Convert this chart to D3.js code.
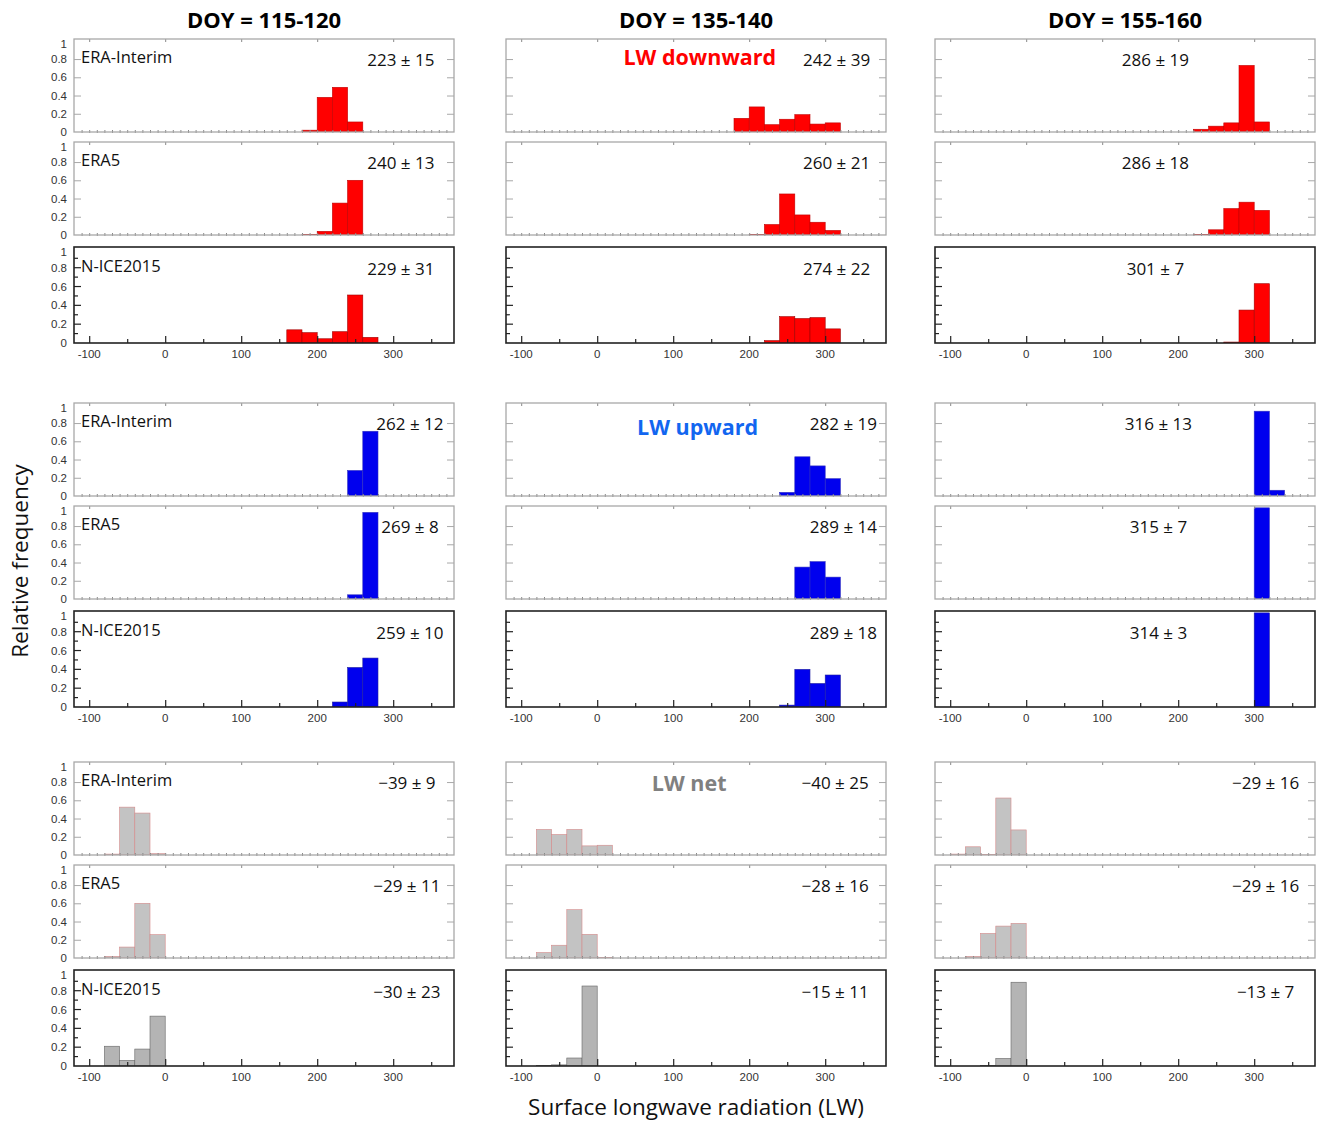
<!doctype HTML>
<meta charset="utf-8">
<html>
<head>
    <script src="https://d3js.org/d3.v7.min.js"></script>
    <style>
        body { margin: 0; background: #fff; }
        text { font-family: "Open Sans", "Noto Sans", sans-serif; }
        .tick-lbl { font-family: "Liberation Sans", Arial, sans-serif; font-size: 11.5px; fill: #333; }
    </style>
</head>
<body>
<div id="viz"></div>
<script>

    // column titles, dataset names and row groups
    var doyTitles = ["DOY = 115-120", "DOY = 135-140", "DOY = 155-160"];
    var datasets = ["ERA-Interim", "ERA5", "N-ICE2015"];
    var variables = ["LW downward", "LW upward", "LW net"];
    var xTicks = [-100, 0, 100, 200, 300];
    var yTicks = [0, 0.2, 0.4, 0.6, 0.8, 1];
    var binWidth = 20;

    // histograms: [column][dataset] -> first bin edge + relative frequencies
    var downHist = [
        [{from: 180, f: [0.02, 0.38, 0.49, 0.11]},
         {from: 180, f: [0.005, 0.04, 0.35, 0.6]},
         {from: 160, f: [0.14, 0.11, 0.045, 0.12, 0.51, 0.06]}],
        [{from: 180, f: [0.15, 0.275, 0.08, 0.14, 0.19, 0.087, 0.10]},
         {from: 200, f: [0.005, 0.115, 0.45, 0.22, 0.14, 0.05]},
         {from: 220, f: [0.025, 0.28, 0.26, 0.27, 0.15]}],
        [{from: 220, f: [0.03, 0.064, 0.10, 0.73, 0.11]},
         {from: 220, f: [0.005, 0.057, 0.29, 0.36, 0.27]},
         {from: 260, f: [0.01, 0.35, 0.63]}]
    ];
    var upHist = [
        [{from: 240, f: [0.28, 0.71]},
         {from: 240, f: [0.046, 0.95]},
         {from: 220, f: [0.053, 0.42, 0.52]}],
        [{from: 240, f: [0.04, 0.43, 0.33, 0.19]},
         {from: 260, f: [0.35, 0.41, 0.24]},
         {from: 240, f: [0.02, 0.40, 0.25, 0.34]}],
        [{from: 300, f: [0.93, 0.063]},
         {from: 300, f: [1.0]},
         {from: 300, f: [1.0]}]
    ];
    var netHist = [
        [{from: -80, f: [0.01, 0.525, 0.46, 0.015]},
         {from: -80, f: [0.018, 0.12, 0.60, 0.256]},
         {from: -80, f: [0.21, 0.06, 0.18, 0.53]}],
        [{from: -80, f: [0.28, 0.225, 0.28, 0.10, 0.107]},
         {from: -80, f: [0.06, 0.14, 0.53, 0.26, 0.007]},
         {from: -80, f: [0.005, 0.012, 0.085, 0.85]}],
        [{from: -100, f: [0.01, 0.09, 0.007, 0.625, 0.275]},
         {from: -80, f: [0.018, 0.27, 0.35, 0.38]},
         {from: -60, f: [0.007, 0.08, 0.89]}]
    ];

    // mean ± sd labels: [column][dataset]
    var downStats = [["223 ± 15", "240 ± 13", "229 ± 31"], ["242 ± 39", "260 ± 21", "274 ± 22"], ["286 ± 19", "286 ± 18", "301 ± 7"]];
    var upStats = [["262 ± 12", "269 ± 8", "259 ± 10"], ["282 ± 19", "289 ± 14", "289 ± 18"], ["316 ± 13", "315 ± 7", "314 ± 3"]];
    var netStats = [["−39 ± 9", "−29 ± 11", "−30 ± 23"], ["−40 ± 25", "−28 ± 16", "−15 ± 11"], ["−29 ± 16", "−29 ± 16", "−13 ± 7"]];

    var hists = [downHist, upHist, netHist];
    var stats = [downStats, upStats, netStats];

    // layout
    var colLeft = [74, 506, 935], panelW = 380;
    var groupTop = [39, 403, 762];
    var rowOffset = [0, 103, 208], rowH = [93, 93, 96];
    var statX = [[310, 315, 170], [322, 324, 174], [318, 313, 315]];
    var varLabelX = [135, 132, 121], varLabelY = [0.82, 0.75, 0.78];
    var varColors = ["#ff0000", "#1266f0", "#808080"];
    var barFill = [["#ff0000", "#ff0000", "#ff0000"], ["#0000ee", "#0000ee", "#0000ee"], ["#c3c3c3", "#c3c3c3", "#b4b4b4"]];
    var barStroke = [["#c00000", "#c00000", "#a00000"], ["#3030c0", "#3030c0", "#2020a0"], ["#d58a8a", "#d58a8a", "#666666"]];

    var svg = d3.select("#viz").append("svg")
        .attr("width", 1318)
        .attr("height", 1124);

    var x = d3.scaleLinear().domain([-120, 380]).range([0, panelW]);

    // column titles
    svg.selectAll(".doy")
        .data(doyTitles)
        .enter().append("text")
        .attr("x", function(d, i) { return colLeft[i] + panelW / 2; })
        .attr("y", 28)
        .attr("text-anchor", "middle")
        .attr("font-size", 22)
        .attr("font-weight", "bold")
        .text(function(d) { return d; });

    hists.forEach(function(hist, g) {
        for (var c = 0; c < 3; c++) {
            for (var r = 0; r < 3; r++) {
                var isObs = (r == 2);
                var h = rowH[r];
                var y = d3.scaleLinear().domain([0, 1.02]).range([h, 0]);
                var p = svg.append("g")
                    .attr("transform", "translate(" + colLeft[c] + "," + (groupTop[g] + rowOffset[r]) + ")");

                var clipId = "clip-" + g + "-" + c + "-" + r;
                p.append("clipPath").attr("id", clipId)
                    .append("rect").attr("width", panelW).attr("height", h);

                // bars
                var bins = hist[c][r].f.map(function(v, i) {
                    return {x0: hist[c][r].from + i * binWidth, v: v};
                });
                p.append("g").attr("clip-path", "url(#" + clipId + ")")
                    .selectAll("rect")
                    .data(bins)
                    .enter().append("rect")
                    .attr("x", function(d) { return x(d.x0); })
                    .attr("width", function(d) { return x(d.x0 + binWidth) - x(d.x0); })
                    .attr("y", function(d) { return y(d.v); })
                    .attr("height", function(d) { return h - y(d.v); })
                    .attr("fill", barFill[g][r])
                    .attr("stroke", barStroke[g][r])
                    .attr("stroke-width", 0.6);

                var frameCol = isObs ? "#222" : "#a8a8a8";

                if (isObs) {
                    // left ticks: major 0.2, minor 0.1, inside
                    var yt = p.append("g");
                    d3.range(1, 10).forEach(function(k) {
                        var major = k % 2 == 0;
                        yt.append("line")
                            .attr("x1", 0).attr("x2", major ? 7 : 4)
                            .attr("y1", y(k / 10)).attr("y2", y(k / 10))
                            .attr("stroke", frameCol).attr("stroke-width", 1.2);
                    });
                    // bottom ticks inside, major at 100, minor at 50
                    var xAx = p.append("g")
                        .attr("transform", "translate(0," + h + ")")
                        .call(d3.axisTop(x).tickValues(d3.range(-100, 351, 50)).tickSize(7).tickFormat(""));
                    xAx.select(".domain").remove();
                    xAx.selectAll(".tick line")
                        .attr("stroke", frameCol).attr("stroke-width", 1.2)
                        .attr("y2", function(d) { return d % 100 == 0 ? -7 : -4; });
                    // labels below
                    p.append("g").selectAll("text")
                        .data(xTicks)
                        .enter().append("text")
                        .attr("class", "tick-lbl")
                        .attr("x", function(d) { return x(d); })
                        .attr("y", h + 15)
                        .attr("text-anchor", "middle")
                        .text(function(d) { return d; });
                } else {
                    // left and right major ticks inside
                    var yl = p.append("g").call(d3.axisRight(y).tickValues([0.2, 0.4, 0.6, 0.8]).tickSize(7).tickFormat(""));
                    yl.select(".domain").remove();
                    yl.selectAll("line").attr("stroke", frameCol);
                    var yr = p.append("g").attr("transform", "translate(" + panelW + ",0)")
                        .call(d3.axisLeft(y).tickValues([0.2, 0.4, 0.6, 0.8]).tickSize(7).tickFormat(""));
                    yr.select(".domain").remove();
                    yr.selectAll("line").attr("stroke", frameCol);
                    // top ticks at 100s
                    var xtop = p.append("g").call(d3.axisBottom(x).tickValues(xTicks).tickSize(3).tickFormat(""));
                    xtop.select(".domain").remove();
                    xtop.selectAll("line").attr("stroke", "#888");
                    // small bottom ticks every 10
                    var xb = p.append("g").attr("transform", "translate(0," + (h + 1) + ")")
                        .call(d3.axisTop(x).tickValues(d3.range(-110, 380, 10)).tickSize(3).tickFormat(""));
                    xb.select(".domain").remove();
                    xb.selectAll("line").attr("stroke", "#888");
                }

                // frame
                p.append("rect")
                    .attr("width", panelW).attr("height", h)
                    .attr("fill", "none")
                    .attr("stroke", frameCol)
                    .attr("stroke-width", isObs ? 1.6 : 1.3);

                // y tick labels on first column
                if (c == 0) {
                    p.append("g").selectAll("text")
                        .data(yTicks)
                        .enter().append("text")
                        .attr("class", "tick-lbl")
                        .attr("x", -7)
                        .attr("y", function(d) { return d == 1 ? y(d) + 3 : y(d); })
                        .attr("dy", "0.35em")
                        .attr("text-anchor", "end")
                        .text(function(d) { return d; });

                    p.append("text")
                        .attr("x", 7)
                        .attr("y", y(0.82))
                        .attr("dy", "0.35em")
                        .attr("font-size", 16.5)
                        .attr("fill", "#111")
                        .text(datasets[r]);
                }

                // mean ± sd
                p.append("text")
                    .attr("x", x(statX[g][c]))
                    .attr("y", y(0.79))
                    .attr("dy", "0.35em")
                    .attr("text-anchor", "middle")
                    .attr("font-size", 17)
                    .attr("fill", "#111")
                    .text(stats[g][c][r]);

                // variable name in middle column
                if (c == 1 && r == 0) {
                    p.append("text")
                        .attr("x", x(varLabelX[g]))
                        .attr("y", y(varLabelY[g]))
                        .attr("dy", "0.35em")
                        .attr("text-anchor", "middle")
                        .attr("font-size", 21.5)
                        .attr("font-weight", "bold")
                        .attr("fill", varColors[g])
                        .text(variables[g]);
                }
            }
        }
    });

    // axis titles
    svg.append("text")
        .attr("transform", "translate(28,561) rotate(-90)")
        .attr("text-anchor", "middle")
        .attr("font-size", 22.5)
        .attr("fill", "#111")
        .text("Relative frequency");

    svg.append("text")
        .attr("x", 696)
        .attr("y", 1115)
        .attr("text-anchor", "middle")
        .attr("font-size", 22.5)
        .attr("fill", "#111")
        .text("Surface longwave radiation (LW)");

</script>
</body>
</html>
